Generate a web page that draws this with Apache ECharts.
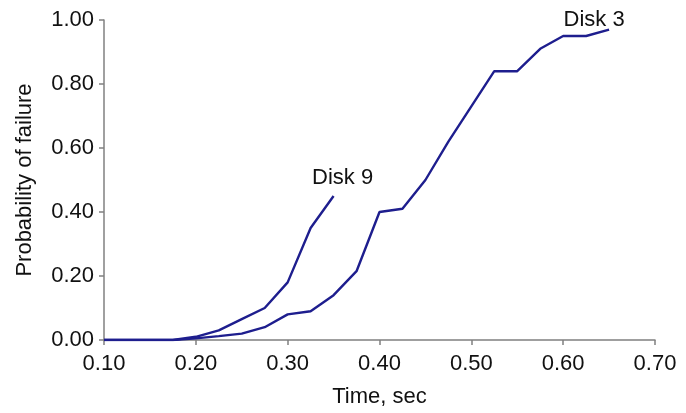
<!DOCTYPE html>
<html>
<head>
<meta charset="utf-8">
<script src="https://cdn.jsdelivr.net/npm/echarts@6/dist/echarts.min.js"></script>
<style>
html,body{margin:0;padding:0;background:#fff;}
#chart{width:686px;height:413px;}
</style>
</head>
<body>
<div id="chart"></div>
<script>
const timeDisk9 = [0.10, 0.125, 0.15, 0.175, 0.20, 0.225, 0.25, 0.275, 0.30, 0.325, 0.35];
const probDisk9 = [0, 0, 0, 0, 0.01, 0.03, 0.065, 0.10, 0.18, 0.35, 0.45];
const timeDisk3 = [0.10, 0.125, 0.15, 0.175, 0.20, 0.225, 0.25, 0.275, 0.30, 0.325, 0.35, 0.375, 0.40, 0.425, 0.45, 0.475, 0.50, 0.525, 0.55, 0.575, 0.60, 0.625, 0.65];
const probDisk3 = [0, 0, 0, 0, 0.005, 0.012, 0.02, 0.04, 0.08, 0.09, 0.14, 0.215, 0.40, 0.41, 0.50, 0.62, 0.73, 0.84, 0.84, 0.91, 0.95, 0.95, 0.97];
const xTicks = [0.10, 0.20, 0.30, 0.40, 0.50, 0.60, 0.70];
const yTicks = [0.00, 0.20, 0.40, 0.60, 0.80, 1.00];
const seriesNames = ['Disk 9', 'Disk 3'];

const FONT = '"Liberation Sans", Arial, sans-serif';
const FS = 22;
const TXT = '#111';
const AX = '#808080';
const LINE = '#1e1e8e';

function build(times, probs, name, offset) {
  return times.map((t, i) => {
    const item = { value: [t, probs[i]] };
    if (i === times.length - 1) {
      item.label = {
        show: true, formatter: name, position: 'top', offset: offset,
        fontFamily: FONT, fontSize: FS, color: TXT
      };
    }
    return item;
  });
}

const chart = echarts.init(document.getElementById('chart'), null, {renderer: 'canvas'});
chart.setOption({
  animation: false,
  backgroundColor: '#fff',
  grid: { left: 104, right: 31, top: 20, bottom: 72, containLabel: false },
  xAxis: {
    type: 'value', min: xTicks[0], max: xTicks[xTicks.length - 1], interval: 0.1,
    name: 'Time, sec', nameLocation: 'middle', nameGap: 46,
    nameTextStyle: { fontFamily: FONT, fontSize: FS, color: TXT },
    axisLine: { show: true, onZero: false, lineStyle: { color: AX, width: 1.5 } },
    axisTick: { show: true, inside: false, length: 5, lineStyle: { color: AX, width: 1.5 } },
    axisLabel: { margin: 13, fontFamily: FONT, fontSize: FS, color: TXT,
      formatter: v => v.toFixed(2) },
    splitLine: { show: false }
  },
  yAxis: {
    type: 'value', min: yTicks[0], max: yTicks[yTicks.length - 1], interval: 0.2,
    name: 'Probability of failure', nameLocation: 'middle', nameGap: 68,
    nameTextStyle: { fontFamily: FONT, fontSize: FS, color: TXT },
    axisLine: { show: true, lineStyle: { color: AX, width: 1.5 } },
    axisTick: { show: true, inside: false, length: 5, lineStyle: { color: AX, width: 1.5 } },
    axisLabel: { margin: 10, fontFamily: FONT, fontSize: FS, color: TXT,
      formatter: v => v.toFixed(2) },
    splitLine: { show: false }
  },
  series: [
    {
      name: seriesNames[0], type: 'line', showSymbol: true, symbol: 'circle', symbolSize: 0.01,
      lineStyle: { color: LINE, width: 2.4 }, itemStyle: { color: LINE },
      data: build(timeDisk9, probDisk9, seriesNames[0], [9, -2]),
      z: 3
    },
    {
      name: seriesNames[1], type: 'line', showSymbol: true, symbol: 'circle', symbolSize: 0.01,
      lineStyle: { color: LINE, width: 2.4 }, itemStyle: { color: LINE },
      data: build(timeDisk3, probDisk3, seriesNames[1], [-15, 6]),
      z: 3
    }
  ]
});
</script>
</body>
</html>
